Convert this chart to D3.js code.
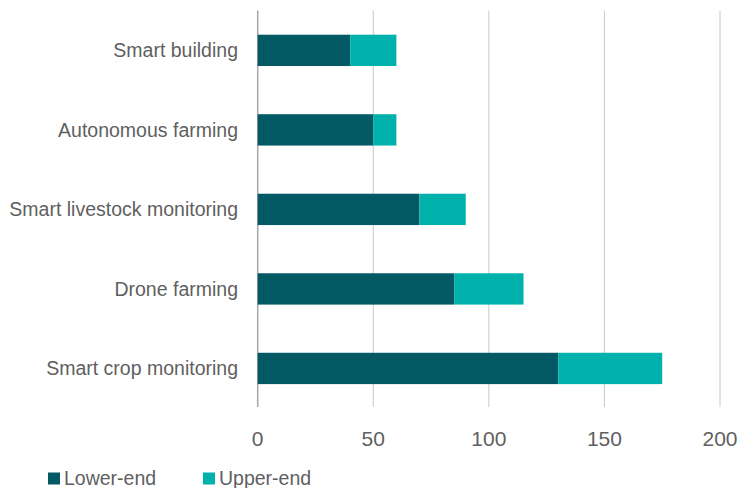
<!DOCTYPE html>
<html><head><meta charset="utf-8">
<script src="https://cdn.jsdelivr.net/npm/d3@7"></script>
<style>body{margin:0;background:#fff}svg{display:block}</style>
</head><body>
<svg id="c" width="739" height="488"></svg>
<script>
const categories = ["Smart building","Autonomous farming","Smart livestock monitoring","Drone farming","Smart crop monitoring"];
const lowerEnd = [40,50,70,85,130];
const upperEnd = [60,60,90,115,175];
const ticks = [0,50,100,150,200];
const seriesNames = ["Lower-end","Upper-end"];
const colors = ["#045a64","#00b2ab"];

const svg = d3.select("#c");
const x = d3.scaleLinear().domain([0,200]).range([257.7,720]);
const y = d3.scaleBand().domain(categories).range([10.6,408.2]).paddingInner(0.606).paddingOuter(0.303);
const font = "'Liberation Sans', Arial, sans-serif";
const textCol = "#5f5f5f";

// gridlines
svg.append("g").selectAll("line").data(ticks).join("line")
  .attr("x1",d=>x(d)).attr("x2",d=>x(d)).attr("y1",10.6).attr("y2",407)
  .attr("stroke",d=>d===0?"#a6a6a6":"#c8c8c8").attr("stroke-width",d=>d===0?1.5:1);

// bars
const rows = categories.map((c,i)=>({c,lo:lowerEnd[i],hi:upperEnd[i]}));
svg.append("g").selectAll("rect").data(rows).join("rect")
  .attr("x",x(0)).attr("y",d=>y(d.c)).attr("width",d=>x(d.lo)-x(0)).attr("height",y.bandwidth()).attr("fill",colors[0]);
svg.append("g").selectAll("rect").data(rows).join("rect")
  .attr("x",d=>x(d.lo)).attr("y",d=>y(d.c)).attr("width",d=>x(d.hi)-x(d.lo)).attr("height",y.bandwidth()).attr("fill",colors[1]);

// category labels
svg.append("g").selectAll("text").data(categories).join("text")
  .attr("x",238).attr("y",d=>y(d)+y.bandwidth()/2).attr("dy","0.35em")
  .attr("text-anchor","end").attr("font-family",font).attr("font-size",19.5).attr("fill",textCol)
  .text(d=>d);

// x tick labels
svg.append("g").selectAll("text").data(ticks).join("text")
  .attr("x",d=>x(d)).attr("y",446).attr("text-anchor","middle")
  .attr("font-family",font).attr("font-size",21).attr("fill",textCol).text(d=>d);

// legend
const lg = svg.append("g");
const lx = [48,203];
seriesNames.forEach((n,i)=>{
  lg.append("rect").attr("x",lx[i]).attr("y",472.5).attr("width",12).attr("height",12).attr("fill",colors[i]);
  lg.append("text").attr("x",lx[i]+16).attr("y",484.5).attr("font-family",font).attr("font-size",19.5).attr("fill",textCol).text(n);
});
</script>
</body></html>
